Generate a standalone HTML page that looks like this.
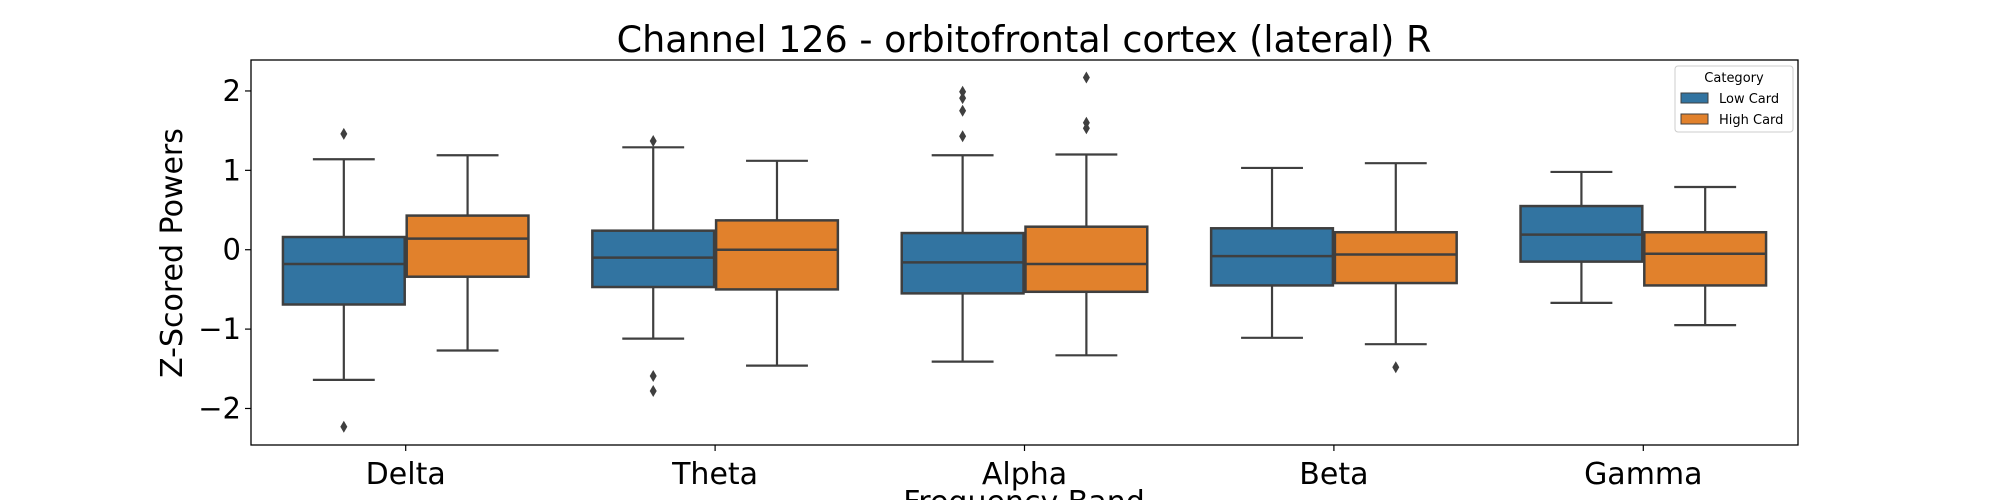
<!DOCTYPE html>
<html><head><meta charset="utf-8"><style>
html,body{margin:0;padding:0;background:#fff;}
svg{display:block;font-family:"DejaVu Sans","Liberation Sans",sans-serif;}
</style></head><body>
<svg id="chart" width="2000" height="500" viewBox="0 0 2000 500" xmlns="http://www.w3.org/2000/svg">
<text x="1024" y="52" font-size="36.5" text-anchor="middle" fill="#000">Channel 126 - orbitofrontal cortex (lateral) R</text>
<g id="plot"></g>
<rect x="251" y="60" width="1547" height="385" fill="none" stroke="#000" stroke-width="1.3"/>
<text transform="translate(182,253) rotate(-90)" font-size="30" text-anchor="middle">Z-Scored Powers</text>
<text x="1024" y="512" font-size="30" text-anchor="middle">Frequency Band</text>
<g>
<rect x="1675" y="66" width="118" height="66" rx="3" fill="#fff" stroke="#ccc" stroke-width="1"/>
<text x="1734" y="82" font-size="13" text-anchor="middle">Category</text>
<rect x="1681" y="93" width="27" height="10" fill="#3274a1" stroke="#3f3f3f"/>
<text x="1719" y="103" font-size="13">Low Card</text>
<rect x="1681" y="114" width="27" height="10" fill="#e1812c" stroke="#3f3f3f"/>
<text x="1719" y="124" font-size="13">High Card</text>
</g>
</svg>
<script>
const categories = ["Delta","Theta","Alpha","Beta","Gamma"];
const seriesNames = ["Low Card","High Card"];
const lowStats = [
 [-1.64,-0.69,-0.18,0.16,1.14],
 [-1.12,-0.47,-0.10,0.24,1.29],
 [-1.41,-0.55,-0.16,0.21,1.19],
 [-1.11,-0.45,-0.08,0.27,1.03],
 [-0.67,-0.15,0.19,0.55,0.98]
];
const highStats = [
 [-1.27,-0.34,0.14,0.43,1.19],
 [-1.46,-0.50,0.00,0.37,1.12],
 [-1.33,-0.53,-0.18,0.29,1.20],
 [-1.19,-0.42,-0.06,0.22,1.09],
 [-0.95,-0.45,-0.05,0.22,0.79]
];
const lowOutliers = [[1.46,-2.23],[1.37,-1.59,-1.78],[1.99,1.91,1.75,1.43],[],[]];
const highOutliers = [[],[],[2.17,1.60,1.53],[-1.48],[]];
const yTicks = [-2,-1,0,1,2];
const yTickLabels = ["\u22122","\u22121","0","1","2"];

const L=251,R=1798,T=60,B=445;
const yMin=-2.46,yMax=2.39;
const y=v=>B-(v-yMin)/(yMax-yMin)*(B-T);
const step=(R-L)/categories.length;
const xc=i=>L+step*(i+0.5);
const NS="http://www.w3.org/2000/svg";
const g=document.getElementById('plot');
function mk(t,a){const e=document.createElementNS(NS,t);for(const k in a)e.setAttribute(k,a[k]);g.appendChild(e);return e;}
const ec="#3f3f3f";
yTicks.forEach((v,i)=>{
 const l=mk('line',{x1:L-6,x2:L,y1:y(v),y2:y(v),stroke:'#000','stroke-width':1.2});
 
 
 const t=mk('text',{x:L-10,y:y(v)+10,'font-size':29,'text-anchor':'end'});
 t.textContent=yTickLabels[i];
 
 
});
categories.forEach((c,i)=>{
 const l=mk('line',{x1:xc(i),x2:xc(i),y1:B,y2:B+6,stroke:'#000','stroke-width':1.2});
 
 
 const t=mk('text',{x:xc(i),y:B+39,'font-size':30,'text-anchor':'middle'});
 t.textContent=c;
 
 
});
const bw=step*0.8/2;
function drawBox(i,s,stats,outs,color){
 const cx=xc(i)+(s===0?-bw/2:bw/2);
 const [lo,q1,md,q3,hi]=stats;
 const w=mk('line',{x1:cx,x2:cx,y1:y(hi),y2:y(q3),stroke:ec,'stroke-width':2.2});
 
 
 const w2=mk('line',{x1:cx,x2:cx,y1:y(q1),y2:y(lo),stroke:ec,'stroke-width':2.2});
 
 
 [hi,lo].forEach(v=>{
  const cap=mk('line',{x1:cx-bw/4,x2:cx+bw/4,y1:y(v),y2:y(v),stroke:ec,'stroke-width':2.2});
  
  
 });
 const r=mk('rect',{x:cx-bw/2+1,y:y(q3),width:bw-2,height:y(q1)-y(q3),fill:color,stroke:ec,'stroke-width':2.5});
 
 
 const m=mk('line',{x1:cx-bw/2+1,x2:cx+bw/2-1,y1:y(md),y2:y(md),stroke:ec,'stroke-width':2.5});
 
 
 outs.forEach(v=>{
  const yy=y(v);
  const p=mk('polygon',{points:`${cx},${yy-6} ${cx+3.5},${yy} ${cx},${yy+6} ${cx-3.5},${yy}`,fill:ec});
  
  
 });
}
categories.forEach((c,i)=>{
 drawBox(i,0,lowStats[i],lowOutliers[i],'#3274a1');
 drawBox(i,1,highStats[i],highOutliers[i],'#e1812c');
});
</script>
</body></html>
